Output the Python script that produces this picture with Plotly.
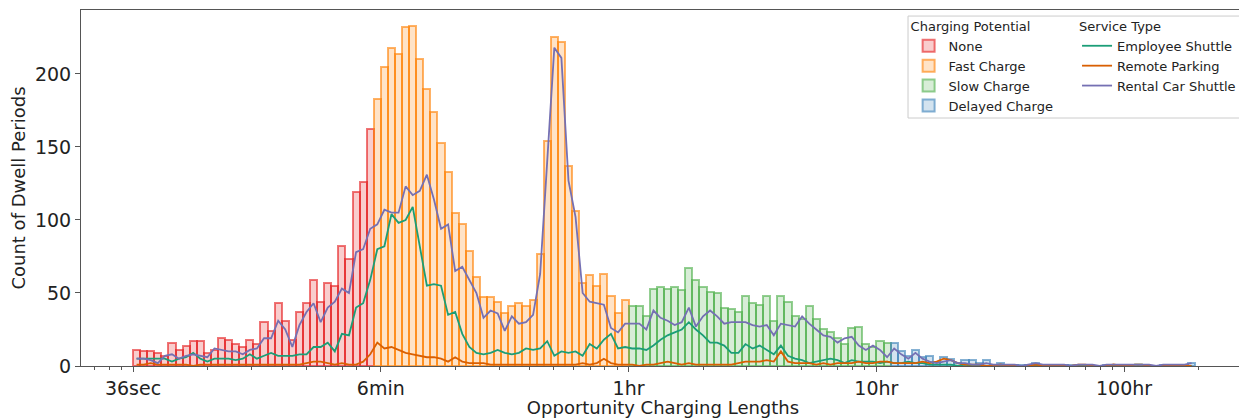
import numpy as np
import plotly.graph_objects as go

# ---------------- data ----------------
# histogram bins, in log10(hours): 36 sec (0.01 h) up to ~193 h
log_min, log_max, n_bins = -2.0, 2.2866, 150

tick_vals = [-2, -1, 0, 1, 2]
tick_text = ["36sec", "6min", "1hr", "10hr", "100hr"]

# bar counts per charging-potential category (start bin index + counts)
none_start = 0
none_counts = [11, 10, 10, 9, 7, 16, 11, 14, 17, 17, 9, 11, 19, 18, 15, 13, 18, 15, 30, 24,
               43, 31, 18, 37, 43, 59, 44, 57, 55, 82, 73, 119, 126, 162]
fast_start = 34
fast_counts = [183, 205, 218, 214, 232, 233, 210, 190, 174, 153, 133, 105, 97, 79, 61, 47, 47, 44,
               36, 41, 43, 41, 45, 77, 154, 225, 222, 137, 106, 57, 62, 55, 63, 48, 36, 45]
slow_start = 70
slow_counts = [41, 41, 34, 53, 54, 53, 54, 52, 67, 59, 54, 51, 50, 40, 39, 37, 48, 43, 42, 48,
               31, 48, 44, 34, 32, 41, 32, 25, 23, 19, 15, 26, 27, 15, 13, 17, 16]
delayed_start = 107
delayed_counts = [16, 10, 7, 11, 6, 7, 3, 6, 5, 2, 4, 4, 2, 4, 1, 2, 1, 1, 1, 1, 2, 1, 0, 0, 1,
                  1, 0, 1, 0, 0, 1, 1, 1, 0, 1, 1, 0, 0, 1, 0, 1, 1, 2]

# service-type counts per bin (150 bins)
employee_shuttle = ([5, 5, 5, 5, 5, 3, 5, 6, 9, 5, 3, 5, 5, 5, 4, 5, 8, 5, 7, 9, 7, 7, 7]
                    + [8, 8, 13, 13, 16, 10, 22, 21, 40, 43, 59, 80, 82, 104, 98, 100, 109, 82, 55, 56,
                       55, 35, 37, 22, 13, 9, 8, 9]
                    + [11, 9, 8, 9, 12, 11, 12, 17, 7, 10, 9, 10, 7, 15, 12, 18, 22, 12, 13]
                    + [12, 12, 11, 14, 18, 21, 23, 25, 30, 25, 21, 16, 16, 14, 9, 9, 15, 12, 14, 11]
                    + [8, 14, 7, 5, 4, 2, 3, 4, 5, 4, 2, 4, 3, 3, 3, 2, 3, 2, 2, 3]
                    + [2, 2, 1, 1, 1, 1, 0, 1, 0, 0, 0, 0, 0, 0, 0, 0, 0, 0, 0, 0]
                    + [0, 0, 0, 0, 0, 0, 0, 0, 0, 0, 0, 1, 1, 0, 0, 0, 0, 0, 0, 0])
remote_parking = ([1, 1, 2, 1, 1, 1, 1, 1, 0, 1, 1, 1, 1, 1, 1, 1, 1, 1, 1, 1, 1, 1, 1, 1, 2, 3,
                   3, 2, 1, 2, 1, 1]
                  + [3, 8, 16, 12, 13, 11, 9, 8, 7, 6, 6, 5, 3, 6, 3, 2, 2, 2]
                  + [1, 1, 1, 1, 1, 1, 1, 1, 1, 1, 1, 1, 1, 2, 1, 2, 5, 2, 1, 1]
                  + [1, 0, 1, 1, 2, 3, 2, 1, 2, 1, 1, 1, 1, 1, 1, 2, 3, 3, 3, 4]
                  + [3, 10, 3, 2, 2, 2, 1, 2, 1, 2, 2, 2, 3, 2, 2, 3, 3, 2, 2, 2]
                  + [2, 3, 2, 3, 5, 4, 2, 1, 1, 1, 0, 0, 1, 0, 0, 0, 0, 1, 0, 0]
                  + [0, 0, 0, 1, 1, 0, 0, 0, 1, 0, 0, 1, 1, 0, 0, 0, 0, 0, 0, 0])
rental_car_shuttle = ([5, 5, 4, 2, 7, 8, 5, 7, 8, 7, 6, 12, 11, 10, 10, 8, 11, 12, 19, 19, 31, 25, 13]
                      + [28, 37, 43, 30, 40, 44, 53, 50, 78, 80, 94, 97, 107, 105, 105, 123, 117, 120,
                         131, 114, 94, 97, 65, 68, 59]
                      + [50, 33, 38, 36, 24, 34, 29, 30, 35]
                      + [63, 141, 218, 211, 127, 102]
                      + [50, 44, 43, 42, 26, 23, 29]
                      + [29, 29, 25, 38, 33, 31, 28, 30, 40, 27, 34, 38, 34, 29, 30, 30, 30, 28, 27, 28]
                      + [21, 29, 28, 27, 34, 29, 25, 21, 20, 16, 19, 20, 14, 11, 14, 11, 6, 12, 8, 5]
                      + [9, 5, 3, 2, 3, 4, 2, 2, 1, 1, 2, 1, 1, 1, 1, 0, 1, 2, 1, 1]
                      + [1, 1, 0, 1, 1, 1, 0, 1, 1, 1, 1, 1, 1, 1, 0, 1, 1, 1, 1, 2])

# ---------------- figure ----------------
edges = np.linspace(log_min, log_max, n_bins + 1)
centers = (edges[:-1] + edges[1:]) / 2
bin_w = edges[1] - edges[0]

fig = go.Figure()

bar_groups = [
    ("None", none_start, none_counts, (228, 26, 28)),
    ("Fast Charge", fast_start, fast_counts, (255, 127, 0)),
    ("Slow Charge", slow_start, slow_counts, (77, 175, 74)),
    ("Delayed Charge", delayed_start, delayed_counts, (55, 126, 184)),
]
for name, start, counts, (r, g, b) in bar_groups:
    fig.add_trace(go.Bar(
        x=centers[start:start + len(counts)], y=counts, width=bin_w, name=name,
        marker=dict(color=f"rgba({r},{g},{b},0.22)",
                    line=dict(color=f"rgba({r},{g},{b},0.6)", width=2)),
        legend="legend",
    ))

line_groups = [
    ("Employee Shuttle", employee_shuttle, "#1b9e77"),
    ("Remote Parking", remote_parking, "#d95f02"),
    ("Rental Car Shuttle", rental_car_shuttle, "#7570b3"),
]
for name, vals, col in line_groups:
    fig.add_trace(go.Scatter(
        x=centers, y=vals, mode="lines", name=name,
        line=dict(color=col, width=1.8), legend="legend2",
    ))

minor_vals = [d + np.log10(k) for d in range(-3, 3) for k in range(2, 10)]
minor_vals = [v for v in minor_vals if -2.21 < v < 2.488]

font_family = "DejaVu Sans"
axis_col = "#555555"

# the page body adds an 8px offset, so the figure is sized to fill the rest of the window
fig.update_layout(
    width=1239, height=410,
    margin=dict(l=73, r=2, t=2, b=52),
    paper_bgcolor="white", plot_bgcolor="white",
    barmode="overlay", bargap=0,
    font=dict(family=font_family, color="#222222"),
    xaxis=dict(
        range=[-2.21, 2.488], tickmode="array", tickvals=tick_vals, ticktext=tick_text,
        ticks="outside", ticklen=5, tickcolor=axis_col, showline=True, linecolor=axis_col,
        linewidth=1, mirror=True, showgrid=False, zeroline=False, automargin=False,
        tickfont=dict(size=19),
        minor=dict(tickmode="array", tickvals=minor_vals, ticks="outside", ticklen=3,
                   tickcolor=axis_col, showgrid=False),
        title=dict(text="Opportunity Charging Lengths", font=dict(size=18), standoff=1),
    ),
    yaxis=dict(
        range=[0, 243.8], tickmode="array", tickvals=[0, 50, 100, 150, 200],
        ticks="outside", ticklen=5, tickcolor=axis_col, showline=True, linecolor=axis_col,
        linewidth=1, mirror=True, showgrid=False, zeroline=False, automargin=False,
        tickfont=dict(size=19),
        title=dict(text="Count of Dwell Periods", font=dict(size=18), standoff=4),
    ),
    legend=dict(
        x=0.711, y=0.989, xanchor="left", yanchor="top",
        bgcolor="rgba(0,0,0,0)", borderwidth=0,
        title=dict(text="Charging Potential", font=dict(size=13)),
        font=dict(size=13), tracegroupgap=0,
    ),
    legend2=dict(
        x=0.8557, y=0.989, xanchor="left", yanchor="top",
        bgcolor="rgba(0,0,0,0)", borderwidth=0,
        title=dict(text="Service Type", font=dict(size=13)),
        font=dict(size=13), tracegroupgap=0,
    ),
    shapes=[dict(
        type="rect", xref="paper", yref="paper",
        x0=0.7105, x1=0.9957, y0=0.6966, y1=0.983,
        line=dict(color="#cccccc", width=1), fillcolor="rgba(255,255,255,0.8)",
        layer="above",
    )],
    showlegend=True,
)

fig.write_html("out.html")
